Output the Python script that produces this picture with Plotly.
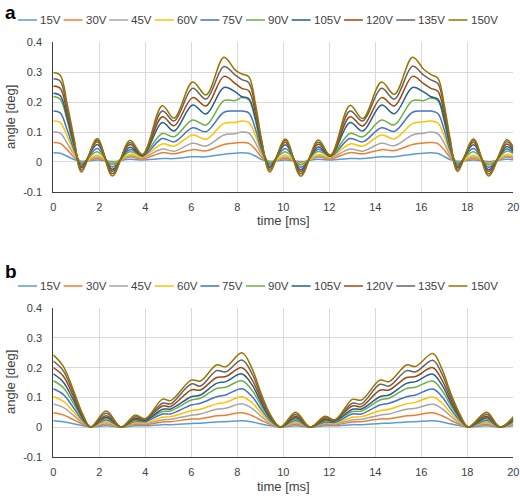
import plotly.graph_objects as go

labels = ["15V", "30V", "45V", "60V", "75V", "90V", "105V", "120V", "135V", "150V"]
colors = ["#5B9BD5", "#ED7D31", "#A5A5A5", "#FFC000", "#4472C4",
          "#70AD47", "#255E91", "#9E480E", "#636363", "#997300"]

# ---------- panel a ----------
time_a = [0, 0.3, 0.6, 0.9, 1.23, 1.91, 2.57, 3.33, 3.88, 4.74, 5.25, 6.06, 6.64, 7.42, 7.9,
          8.2, 8.5, 8.8, 9.05, 9.42, 10.09, 10.76, 11.52, 12.05, 12.9, 13.45, 14.27, 14.83, 15.62,
          16.1, 16.42, 16.72, 17.0, 17.25, 17.58, 18.27, 18.93, 19.71, 20]

a_15V = [0.03, 0.029, 0.019, 0.008, 0.002, 0.006, 0.001, 0.009, 0.006, 0.011, 0.011, 0.017, 0.017, 0.026, 0.029,
         0.031, 0.029, 0.019, 0.008, 0.002, 0.006, 0.001, 0.009, 0.006, 0.011, 0.011, 0.017, 0.017, 0.026,
         0.029, 0.031, 0.028, 0.018, 0.008, 0.002, 0.006, 0.001, 0.009, 0.007]
a_30V = [0.065, 0.062, 0.041, 0.016, 0.0, 0.011, -0.002, 0.016, 0.01, 0.031, 0.027, 0.041, 0.037, 0.058, 0.063,
         0.065, 0.062, 0.041, 0.016, 0.0, 0.011, -0.002, 0.016, 0.01, 0.031, 0.027, 0.041, 0.038, 0.058,
         0.063, 0.065, 0.061, 0.04, 0.016, 0.0, 0.011, -0.002, 0.016, 0.012]
a_45V = [0.1, 0.096, 0.063, 0.025, -0.002, 0.016, -0.004, 0.02, 0.014, 0.043, 0.036, 0.062, 0.053, 0.09, 0.094,
         0.1, 0.096, 0.063, 0.025, -0.002, 0.016, -0.004, 0.02, 0.014, 0.043, 0.036, 0.062, 0.054, 0.09,
         0.096, 0.1, 0.094, 0.062, 0.024, -0.002, 0.016, -0.004, 0.02, 0.016]
a_60V = [0.137, 0.132, 0.087, 0.034, -0.004, 0.022, -0.007, 0.025, 0.016, 0.06, 0.053, 0.09, 0.076, 0.129, 0.132,
         0.137, 0.132, 0.086, 0.033, -0.004, 0.022, -0.007, 0.025, 0.016, 0.06, 0.053, 0.09, 0.077, 0.128,
         0.134, 0.137, 0.13, 0.086, 0.033, -0.004, 0.022, -0.007, 0.025, 0.02]
a_75V = [0.17, 0.164, 0.108, 0.042, -0.008, 0.045, -0.017, 0.041, 0.02, 0.078, 0.067, 0.114, 0.101, 0.166, 0.17,
         0.17, 0.164, 0.107, 0.04, -0.008, 0.045, -0.018, 0.042, 0.019, 0.078, 0.067, 0.114, 0.102, 0.166,
         0.17, 0.17, 0.162, 0.107, 0.04, -0.008, 0.045, -0.018, 0.043, 0.03]
a_90V = [0.219, 0.21, 0.14, 0.052, -0.004, 0.034, -0.009, 0.034, 0.022, 0.095, 0.084, 0.14, 0.123, 0.205, 0.205,
         0.215, 0.207, 0.135, 0.05, -0.004, 0.034, -0.01, 0.035, 0.02, 0.095, 0.084, 0.14, 0.124, 0.205,
         0.205, 0.214, 0.205, 0.135, 0.05, -0.004, 0.034, -0.01, 0.036, 0.028]
a_105V = [0.23, 0.222, 0.148, 0.058, -0.015, 0.058, -0.025, 0.049, 0.02, 0.132, 0.103, 0.19, 0.16, 0.249, 0.235,
          0.218, 0.212, 0.142, 0.056, -0.015, 0.057, -0.026, 0.05, 0.019, 0.132, 0.103, 0.19, 0.161, 0.249,
          0.234, 0.218, 0.21, 0.142, 0.056, -0.015, 0.057, -0.026, 0.051, 0.035]
a_120V = [0.254, 0.246, 0.165, 0.065, -0.02, 0.067, -0.031, 0.058, 0.022, 0.151, 0.121, 0.215, 0.187, 0.286, 0.263,
          0.246, 0.238, 0.16, 0.064, -0.02, 0.066, -0.032, 0.059, 0.02, 0.151, 0.12, 0.215, 0.187, 0.286,
          0.262, 0.246, 0.236, 0.16, 0.063, -0.02, 0.066, -0.032, 0.06, 0.04]
a_135V = [0.278, 0.27, 0.18, 0.072, -0.027, 0.073, -0.039, 0.065, 0.024, 0.17, 0.137, 0.246, 0.21, 0.319, 0.291,
          0.275, 0.265, 0.175, 0.07, -0.027, 0.072, -0.04, 0.066, 0.022, 0.17, 0.137, 0.246, 0.21, 0.32,
          0.29, 0.274, 0.262, 0.175, 0.07, -0.026, 0.072, -0.04, 0.067, 0.045]
a_150V = [0.299, 0.29, 0.195, 0.08, -0.034, 0.078, -0.047, 0.072, 0.025, 0.188, 0.146, 0.267, 0.224, 0.35, 0.308,
          0.294, 0.285, 0.19, 0.078, -0.034, 0.077, -0.048, 0.073, 0.022, 0.189, 0.145, 0.267, 0.226, 0.35,
          0.31, 0.292, 0.28, 0.19, 0.08, -0.032, 0.077, -0.047, 0.074, 0.05]

# ---------- panel b ----------
time_b = [0, 0.43, 0.87, 1.3, 1.62, 2.3, 2.95, 3.55, 4.0, 4.75, 5.1, 6.0, 6.4, 7.1, 7.5, 8.2, 8.65, 9.05,
          9.45, 9.87, 10.54, 11.16, 11.81, 12.25, 13.0, 13.4, 14.2, 14.6, 15.36, 15.75, 16.5, 16.9, 17.3,
          17.7, 18.04, 18.84, 19.42, 20]

b_15V = [0.021, 0.018, 0.011, 0.004, 0.0, 0.004, 0.0, 0.004, 0.004, 0.008, 0.008, 0.012, 0.013, 0.017, 0.018,
         0.021, 0.017, 0.01, 0.004, 0.0, 0.004, 0.0, 0.004, 0.004, 0.008, 0.008, 0.012, 0.013, 0.017, 0.018,
         0.021, 0.017, 0.01, 0.004, 0.0, 0.004, 0.0, 0.004]
b_30V = [0.048, 0.041, 0.025, 0.008, 0.0, 0.01, 0.0, 0.009, 0.008, 0.017, 0.018, 0.027, 0.028, 0.038, 0.04,
         0.048, 0.038, 0.022, 0.008, 0.0, 0.009, 0.0, 0.008, 0.007, 0.017, 0.018, 0.027, 0.028, 0.038, 0.04,
         0.048, 0.038, 0.022, 0.008, 0.0, 0.009, 0.0, 0.008]
b_45V = [0.078, 0.066, 0.04, 0.012, 0.0, 0.015, 0.0, 0.012, 0.011, 0.024, 0.026, 0.04, 0.044, 0.06, 0.063,
         0.078, 0.062, 0.035, 0.012, 0.0, 0.014, 0.0, 0.011, 0.01, 0.024, 0.026, 0.04, 0.044, 0.06, 0.063,
         0.077, 0.062, 0.035, 0.012, 0.0, 0.014, 0.0, 0.011]
b_60V = [0.102, 0.087, 0.052, 0.016, 0.0, 0.018, 0.0, 0.015, 0.014, 0.033, 0.035, 0.055, 0.06, 0.078, 0.083,
         0.102, 0.081, 0.046, 0.016, 0.0, 0.017, 0.0, 0.014, 0.013, 0.033, 0.035, 0.055, 0.06, 0.078, 0.083,
         0.101, 0.081, 0.046, 0.016, 0.0, 0.017, 0.0, 0.014]
b_75V = [0.129, 0.11, 0.066, 0.02, 0.0, 0.024, 0.0, 0.019, 0.018, 0.044, 0.044, 0.074, 0.08, 0.102, 0.108,
         0.129, 0.102, 0.058, 0.02, 0.0, 0.022, 0.0, 0.017, 0.016, 0.044, 0.044, 0.074, 0.08, 0.102, 0.108,
         0.128, 0.102, 0.058, 0.02, 0.0, 0.022, 0.0, 0.017]
b_90V = [0.156, 0.133, 0.08, 0.025, 0.0, 0.029, 0.0, 0.021, 0.022, 0.052, 0.054, 0.091, 0.097, 0.13, 0.134,
         0.156, 0.123, 0.07, 0.025, 0.0, 0.027, 0.0, 0.02, 0.02, 0.052, 0.054, 0.091, 0.097, 0.13, 0.134,
         0.155, 0.123, 0.07, 0.025, 0.0, 0.027, 0.0, 0.02]
b_105V = [0.179, 0.152, 0.092, 0.028, 0.0, 0.033, 0.0, 0.026, 0.022, 0.06, 0.061, 0.102, 0.108, 0.147, 0.153,
          0.179, 0.141, 0.08, 0.028, 0.0, 0.031, 0.0, 0.024, 0.02, 0.06, 0.061, 0.102, 0.108, 0.147, 0.153,
          0.178, 0.141, 0.08, 0.028, 0.0, 0.031, 0.0, 0.023]
b_120V = [0.2, 0.172, 0.104, 0.032, 0.0, 0.038, 0.0, 0.029, 0.025, 0.071, 0.069, 0.125, 0.125, 0.167, 0.17,
          0.2, 0.158, 0.09, 0.032, 0.0, 0.036, 0.0, 0.027, 0.023, 0.071, 0.069, 0.124, 0.125, 0.167, 0.17,
          0.2, 0.158, 0.09, 0.032, 0.0, 0.036, 0.0, 0.026]
b_135V = [0.222, 0.19, 0.115, 0.035, 0.0, 0.046, 0.0, 0.034, 0.027, 0.08, 0.078, 0.145, 0.138, 0.19, 0.186,
          0.226, 0.178, 0.1, 0.036, 0.0, 0.043, 0.0, 0.031, 0.024, 0.08, 0.078, 0.144, 0.138, 0.19, 0.186,
          0.225, 0.178, 0.1, 0.036, 0.0, 0.043, 0.0, 0.03]
b_150V = [0.243, 0.205, 0.125, 0.04, 0.0, 0.054, 0.0, 0.04, 0.028, 0.094, 0.089, 0.158, 0.155, 0.209, 0.203,
          0.25, 0.195, 0.11, 0.04, 0.0, 0.05, 0.0, 0.036, 0.025, 0.093, 0.091, 0.158, 0.153, 0.209, 0.204,
          0.248, 0.195, 0.11, 0.04, 0.0, 0.05, 0.0, 0.035]

y_tick_vals = [-0.1, 0, 0.1, 0.2, 0.3, 0.4]
y_tick_text = ["-0.1", "0", "0.1", "0.2", "0.3", "0.4"]
x_tick_vals = [0, 2, 4, 6, 8, 10, 12, 14, 16, 18, 20]

series_a = [a_15V, a_30V, a_45V, a_60V, a_75V, a_90V, a_105V, a_120V, a_135V, a_150V]
series_b = [b_15V, b_30V, b_45V, b_60V, b_75V, b_90V, b_105V, b_120V, b_135V, b_150V]

W, H = 520, 500
FONT = "Liberation Sans, Arial, sans-serif"
TXT = "#404040"

def PX(x):
    return x / W

def PY(y):
    return 1 - y / H

fig = go.Figure()
for lab, col, ya in zip(labels, colors, series_a):
    fig.add_trace(go.Scatter(x=time_a, y=ya, mode="lines", name=lab, showlegend=False,
                             line=dict(color=col, width=1.5, shape="spline", smoothing=1.0),
                             xaxis="x", yaxis="y"))
for lab, col, yb in zip(labels, colors, series_b):
    fig.add_trace(go.Scatter(x=time_b, y=yb, mode="lines", name=lab, showlegend=False,
                             line=dict(color=col, width=1.5, shape="spline", smoothing=1.0),
                             xaxis="x2", yaxis="y2"))

def xax(anchor, dom):
    return dict(domain=dom, anchor=anchor, range=[0, 20], tickvals=x_tick_vals, automargin=False,
                showgrid=True, gridcolor="#D9D9D9", gridwidth=1, zeroline=False,
                showline=True, linecolor="#404040", linewidth=1, ticks="",
                tickfont=dict(family=FONT, size=11, color=TXT), ticklabelstandoff=5)

def yax(anchor, dom):
    return dict(domain=dom, anchor=anchor, range=[-0.1, 0.4], tickvals=y_tick_vals, ticktext=y_tick_text,
                automargin=False,
                showgrid=True, gridcolor="#D9D9D9", gridwidth=1, zeroline=False,
                showline=True, linecolor="#404040", linewidth=1, ticks="",
                tickfont=dict(family=FONT, size=11, color=TXT), ticklabelstandoff=8)

xdom = [PX(53.3), PX(513.3)]
fig.update_layout(
    width=W, height=H, margin=dict(l=0, r=0, t=0, b=0, autoexpand=False),
    paper_bgcolor="white", plot_bgcolor="white", showlegend=False,
    xaxis=xax("y", xdom), yaxis=yax("x", [PY(191.8), PY(42.3)]),
    xaxis2=xax("y2", xdom), yaxis2=yax("x2", [PY(456.7), PY(308.3)]),
)

annotations = []
shapes = []
# panel letters
for letter, py in [("a", 12), ("b", 271)]:
    annotations.append(dict(text="<b>%s</b>" % letter, x=PX(3), y=PY(py), xref="paper", yref="paper",
                            xanchor="left", yanchor="middle", showarrow=False,
                            font=dict(family=FONT, size=19, color="black")))
# axis titles
for ty, yc in [(221, 117), (486, 382)]:
    annotations.append(dict(text="time [ms]", x=PX(283.3), y=PY(ty), xref="paper", yref="paper",
                            xanchor="center", yanchor="middle", showarrow=False,
                            font=dict(family=FONT, size=13, color=TXT)))
    annotations.append(dict(text="angle [deg]", x=PX(10), y=PY(yc), xref="paper", yref="paper",
                            xanchor="center", yanchor="middle", showarrow=False, textangle=-90,
                            font=dict(family=FONT, size=13, color=TXT)))
# custom legends
for ly in [20, 286]:
    x0 = 18.0
    for lab, col in zip(labels, colors):
        shapes.append(dict(type="line", xref="paper", yref="paper",
                           x0=PX(x0), x1=PX(x0 + 19), y0=PY(ly), y1=PY(ly),
                           line=dict(color=col, width=1.5)))
        annotations.append(dict(text=lab, x=PX(x0 + 20), y=PY(ly), xref="paper", yref="paper",
                                xanchor="left", yanchor="middle", showarrow=False,
                                font=dict(family=FONT, size=11.5, color=TXT)))
        x0 += 25.5 + 6.7 * len(lab)

fig.update_layout(annotations=annotations, shapes=shapes)
fig.write_html("out.html", config={"displayModeBar": False},
               post_script="document.body.style.margin='0';document.body.style.overflow='hidden';")
